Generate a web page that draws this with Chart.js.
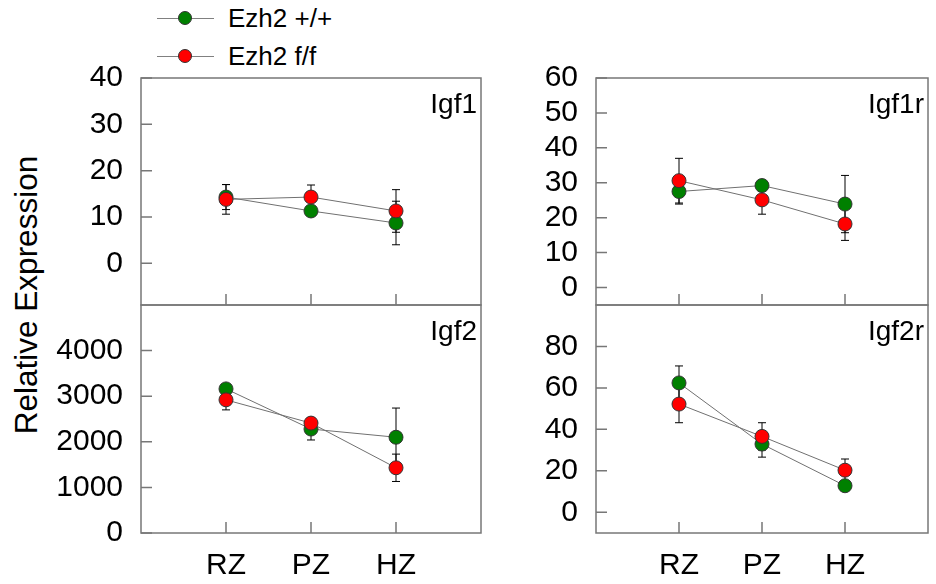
<!DOCTYPE html>
<html>
<head>
<meta charset="utf-8">
<script src="https://cdn.jsdelivr.net/npm/chart.js@4.4.1/dist/chart.umd.min.js"></script>
<style>
  body { margin: 0; width: 936px; height: 584px; overflow: hidden; background: #fff; position: relative;
         font-family: "Liberation Sans", Arial, sans-serif; }
  canvas { position: absolute; }
  .leg { position: absolute; left: 157px; height: 20px; }
  .leg .ln { position: absolute; left: 0; top: 9px; width: 57px; height: 1px; background: #808080; }
  .leg .dot { position: absolute; left: 21px; top: 2px; width: 14px; height: 14px; border-radius: 50%;
              border: 1px solid #333; box-sizing: border-box; }
  .leg .txt { position: absolute; left: 71px; top: -6px; font-size: 26px; white-space: nowrap; color: #000; }
  #ytitle { position: absolute; left: -124px; top: 276px; width: 300px; text-align: center;
            font-size: 31.5px; line-height: 38px; transform: rotate(-90deg); color: #000; }
</style>
</head>
<body>
<div class="leg" style="top:9px"><div class="ln"></div><div class="dot" style="background:#008000"></div><div class="txt">Ezh2 +/+</div></div>
<div class="leg" style="top:47px"><div class="ln"></div><div class="dot" style="background:#ff0000"></div><div class="txt">Ezh2 f/f</div></div>
<div id="ytitle">Relative Expression</div>
<script>
// zones along the growth plate
const zones = ['RZ', 'PZ', 'HZ'];

// Igf1
const igf1WT = [14.3, 11.3, 8.7];
const igf1WTErr = [2.7, 1.0, 4.7];
const igf1KO = [13.8, 14.3, 11.3];
const igf1KOErr = [3.2, 2.6, 4.6];
const igf1Ticks = [0, 10, 20, 30, 40];

// Igf1r
const igf1rWT = [27.5, 29.2, 23.9];
const igf1rWTErr = [3.6, 1.5, 8.2];
const igf1rKO = [30.6, 25.1, 18.2];
const igf1rKOErr = [6.4, 4.1, 4.7];
const igf1rTicks = [0, 10, 20, 30, 40, 50, 60];

// Igf2
const igf2WT = [3160, 2280, 2100];
const igf2WTErr = [100, 240, 640];
const igf2KO = [2920, 2410, 1430];
const igf2KOErr = [220, 110, 300];
const igf2Ticks = [0, 1000, 2000, 3000, 4000];

// Igf2r
const igf2rWT = [62.4, 32.9, 12.8];
const igf2rWTErr = [8.2, 6.3, 1.5];
const igf2rKO = [52.2, 36.6, 20.3];
const igf2rKOErr = [9.0, 6.6, 5.4];
const igf2rTicks = [0, 20, 40, 60, 80];

const FONT = { family: '"Liberation Sans", Arial, sans-serif', size: 30 };

// frame, inward ticks and panel name
const frame = {
    id: 'frame',
    beforeDatasetsDraw(chart, args, opts) {
        const { ctx, chartArea: a, scales: { x, y } } = chart;
        ctx.save();
        ctx.strokeStyle = '#777';
        ctx.lineWidth = 1.5;
        ctx.strokeRect(a.left, a.top, a.right - a.left, a.bottom - a.top);
        ctx.beginPath();
        opts.yTicks.forEach(v => {
            const p = y.getPixelForValue(v);
            ctx.moveTo(a.left, p);
            ctx.lineTo(a.left + 11, p);
        });
        zones.forEach((z, i) => {
            const p = x.getPixelForValue(i);
            ctx.moveTo(p, a.bottom);
            ctx.lineTo(p, a.bottom - 11);
        });
        ctx.stroke();
        ctx.font = '28px "Liberation Sans", Arial, sans-serif';
        ctx.fillStyle = '#000';
        ctx.textAlign = 'right';
        ctx.textBaseline = 'alphabetic';
        ctx.fillText(opts.text, a.right - 4, a.top + 35);
        ctx.restore();
    }
};

// vertical error bars with caps
const errorBars = {
    id: 'errorBars',
    beforeDatasetsDraw(chart) {
        const { ctx, scales: { x, y } } = chart;
        ctx.save();
        ctx.strokeStyle = '#000';
        ctx.lineWidth = 1;
        chart.data.datasets.forEach(ds => {
            ds.data.forEach((pt, i) => {
                const e = ds.errors[i];
                const px = x.getPixelForValue(pt.x);
                const hi = y.getPixelForValue(pt.y + e);
                const lo = y.getPixelForValue(pt.y - e);
                ctx.beginPath();
                ctx.moveTo(px, hi); ctx.lineTo(px, lo);
                ctx.moveTo(px - 4, hi); ctx.lineTo(px + 4, hi);
                ctx.moveTo(px - 4, lo); ctx.lineTo(px + 4, lo);
                ctx.stroke();
            });
        });
        ctx.restore();
    }
};

function series(label, values, errors, color, order) {
    return {
        label: label,
        data: values.map((v, i) => ({ x: i, y: v })),
        errors: errors,
        order: order,
        borderColor: '#707070',
        borderWidth: 1,
        backgroundColor: color,
        pointBackgroundColor: color,
        pointBorderColor: '#333',
        pointBorderWidth: 1,
        pointRadius: 7,
        fill: false,
        tension: 0
    };
}

function panel(box, name, wt, wtErr, ko, koErr, yTicks, yMin, yMax, showX) {
    const W = 100, P = 40, H = 50;
    const cv = document.createElement('canvas');
    cv.width = W + (box.r - box.l) + box.pr;
    cv.height = P + (box.b - box.t) + (showX ? H : P);
    cv.style.left = (box.l - W) + 'px';
    cv.style.top = (box.t - P) + 'px';
    document.body.appendChild(cv);

    new Chart(cv, {
        type: 'line',
        data: {
            datasets: [
                series('Ezh2 f/f', ko, koErr, '#ff0000', 0),
                series('Ezh2 +/+', wt, wtErr, '#008000', 1)
            ]
        },
        options: {
            responsive: false,
            animation: false,
            layout: { padding: { top: P, right: box.pr, bottom: showX ? 0 : P, left: 0 } },
            plugins: {
                legend: { display: false },
                tooltip: { enabled: false },
                frame: { text: name, yTicks: yTicks }
            },
            scales: {
                x: {
                    type: 'linear',
                    min: -1,
                    max: 3,
                    display: showX,
                    afterBuildTicks: s => { s.ticks = zones.map((z, i) => ({ value: i })); },
                    afterFit: s => { s.height = showX ? H : 0; },
                    ticks: { callback: v => zones[v], font: FONT, color: '#000', padding: 15,
                             maxRotation: 0, autoSkip: false },
                    grid: { display: false, drawTicks: false },
                    border: { display: false }
                },
                y: {
                    min: yMin,
                    max: yMax,
                    afterBuildTicks: s => { s.ticks = yTicks.map(v => ({ value: v })); },
                    afterFit: s => { s.width = W; },
                    ticks: { callback: v => String(v), font: FONT, color: '#000', padding: 18,
                             autoSkip: false },
                    grid: { display: false, drawTicks: false },
                    border: { display: false }
                }
            }
        },
        plugins: [frame, errorBars]
    });
}

panel({ l: 141, r: 481, t: 78, b: 305, pr: 10 }, 'Igf1', igf1WT, igf1WTErr, igf1KO, igf1KOErr, igf1Ticks, -9, 40, false);
panel({ l: 141, r: 481, t: 305, b: 533, pr: 10 }, 'Igf2', igf2WT, igf2WTErr, igf2KO, igf2KOErr, igf2Ticks, 0, 5000, true);
panel({ l: 596, r: 934, t: 78, b: 305, pr: 2 }, 'Igf1r', igf1rWT, igf1rWTErr, igf1rKO, igf1rKOErr, igf1rTicks, -5, 60, false);
panel({ l: 596, r: 934, t: 305, b: 533, pr: 2 }, 'Igf2r', igf2rWT, igf2rWTErr, igf2rKO, igf2rKOErr, igf2rTicks, -10, 100, true);
</script>
</body>
</html>
